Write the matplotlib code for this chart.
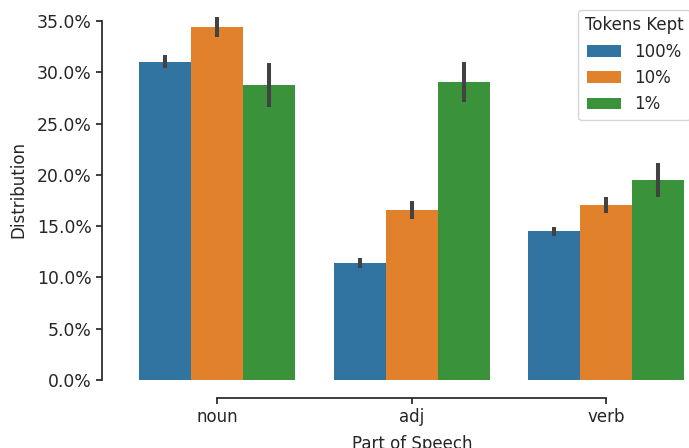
import numpy as np
import matplotlib
matplotlib.use("Agg")
import matplotlib.pyplot as plt
from matplotlib.ticker import PercentFormatter

# data
pos_tags = ["noun", "adj", "verb"]
kept = ["100%", "10%", "1%"]
means = {
    "100%": [0.310, 0.1144, 0.1453],
    "10%": [0.3441, 0.1657, 0.1706],
    "1%": [0.2876, 0.2908, 0.1950],
}
ci_low = {
    "100%": [0.3038, 0.1092, 0.1401],
    "10%": [0.3347, 0.1570, 0.1628],
    "1%": [0.2665, 0.2707, 0.1781],
}
ci_high = {
    "100%": [0.3168, 0.1189, 0.1495],
    "10%": [0.3542, 0.1742, 0.1784],
    "1%": [0.3088, 0.3103, 0.2119],
}
colors = ["#3274a1", "#e1812c", "#3a923a"]

plt.rcParams["font.family"] = "DejaVu Sans"
plt.rcParams["font.size"] = 12
dark = ".15"

fig = plt.figure(figsize=(6.89, 4.48), dpi=100)
ax = fig.add_axes([120 / 689, 68 / 448, 583.5 / 689, 381.5 / 448])

x = np.arange(len(pos_tags))
w = 0.8 / len(kept)
for j, k in enumerate(kept):
    xs = x + (j - 1) * w
    ax.bar(xs, means[k], width=w, color=colors[j], label=k, zorder=2)
    ax.vlines(xs, ci_low[k], ci_high[k], color=".26", lw=2.9, zorder=3)

ax.set_xlim(-0.5, 2.5)
ax.set_ylim(0, 0.3719)
ax.set_xticks(x)
ax.set_xticklabels(pos_tags)
ax.set_yticks(np.arange(0, 0.351, 0.05))
ax.yaxis.set_major_formatter(PercentFormatter(1.0, decimals=1))
ax.tick_params(colors=dark, labelcolor=dark, length=4, width=1.25, labelsize=12)
ax.tick_params(axis="y", labelsize=12.4)

# seaborn-like despine with offset and trim
for s in ["top", "right"]:
    ax.spines[s].set_visible(False)
for s in ["left", "bottom"]:
    ax.spines[s].set_position(("outward", 13))
    ax.spines[s].set_linewidth(1.25)
    ax.spines[s].set_color(dark)
ax.spines["left"].set_bounds(0, 0.35)
ax.spines["bottom"].set_bounds(0, 2)

ax.set_xlabel("Part of Speech", color=dark, fontsize=12, labelpad=6)
ax.set_ylabel("Distribution", color=dark, fontsize=12, labelpad=6.5)

leg = ax.legend(title="Tokens Kept", loc="upper right", fontsize=12,
                title_fontsize=12, frameon=True,
                bbox_to_anchor=(1 - 5 / 583.5, 1 - 3 / 381.5))
for t in leg.get_texts():
    t.set_color(dark)
leg.get_title().set_color(dark)

fig.savefig("out.png", dpi=100)
